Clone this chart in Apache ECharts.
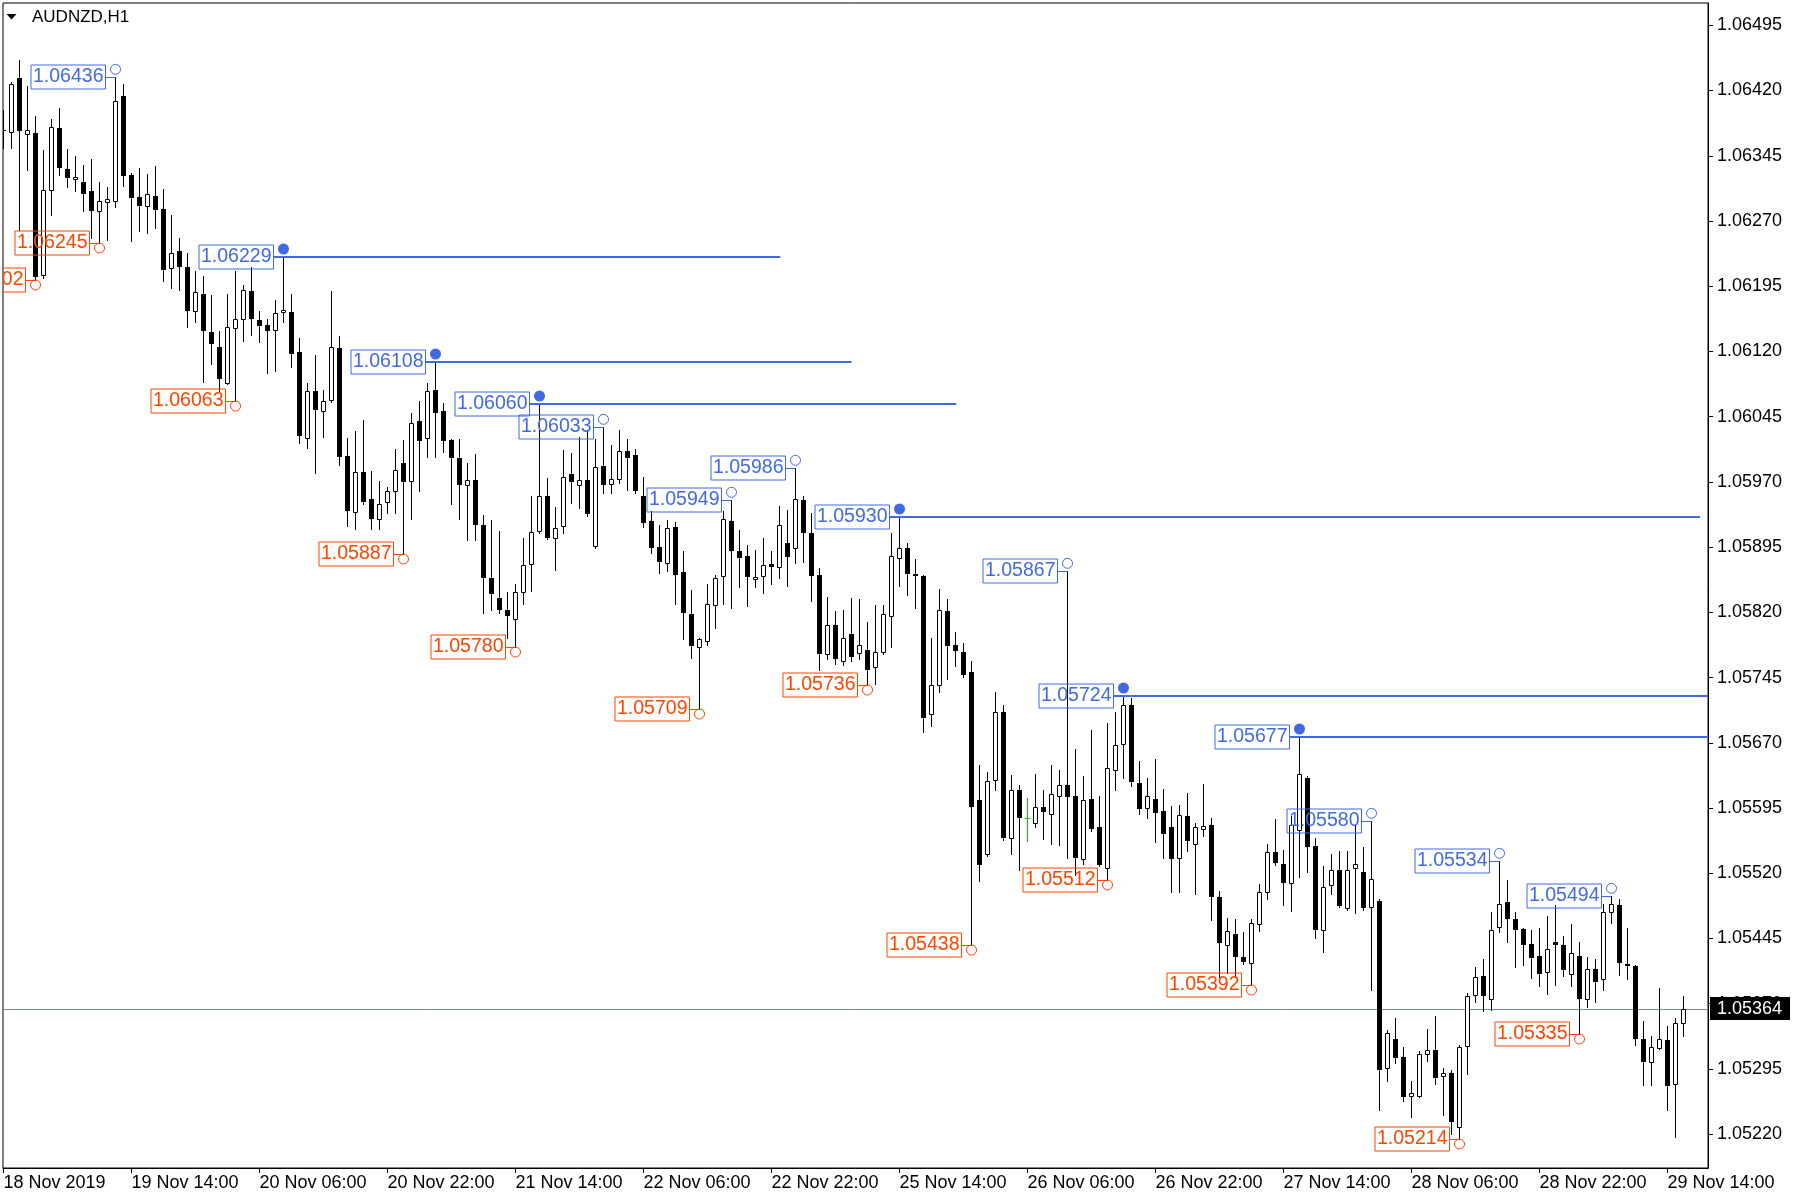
<!DOCTYPE html>
<html><head><meta charset="utf-8">
<script src="https://cdn.jsdelivr.net/npm/echarts@6/dist/echarts.min.js"></script>
<style>html,body{margin:0;padding:0;background:#fff}#c{width:1800px;height:1201px}</style>
</head><body><div id="c"></div>
<script>
const symbolTitle = 'AUDNZD,H1';
const opens = [
1.06375,1.06372,1.06434,1.06370,1.06371,1.06208,1.06306,1.06377,1.06330,1.06318,
1.06315,1.06304,1.06282,1.06292,1.06293,1.06414,1.06323,1.06298,1.06287,1.06299,
1.06284,1.06216,1.06235,1.06217,1.06166,1.06186,1.06142,1.06125,1.06084,1.06147,
1.06157,1.06190,1.06156,1.06150,1.06145,1.06165,1.06165,1.06119,1.06021,1.06074,
1.06052,1.06064,1.06124,1.06000,1.05935,1.05981,1.05950,1.05927,1.05947,1.05959,
1.05992,1.05971,1.06040,1.06020,1.06076,1.06051,1.06018,1.05998,1.05966,1.05972,
1.05921,1.05859,1.05837,1.05823,1.05812,1.05843,1.05876,1.05913,1.05954,1.05905,
1.05919,1.05979,1.05967,1.05972,1.05896,1.05988,1.05968,1.05973,1.06005,1.06001,
1.05954,1.05925,1.05895,1.05877,1.05918,1.05866,1.05818,1.05780,1.05787,1.05829,
1.05862,1.05925,1.05890,1.05885,1.05858,1.05862,1.05876,1.05872,1.05900,1.05894,
1.05949,1.05911,1.05863,1.05772,1.05805,1.05764,1.05795,1.05773,1.05777,1.05757,
1.05774,1.05816,1.05883,1.05894,1.05864,1.05862,1.05703,1.05737,1.05822,1.05782,
1.05774,1.05752,1.05604,1.05542,1.05627,1.05705,1.05561,1.05616,1.05584,1.05578,
1.05596,1.05588,1.05609,1.05622,1.05609,1.05537,1.05605,1.05573,1.05526,1.05639,
1.05669,1.05713,1.05624,1.05595,1.05605,1.05592,1.05573,1.05538,1.05586,1.05554,
1.05571,1.05576,1.05493,1.05438,1.05450,1.05424,1.05417,1.05462,1.05498,1.05544,
1.05531,1.05509,1.05570,1.05630,1.05551,1.05455,1.05506,1.05524,1.05480,1.05526,
1.05522,1.05481,1.05488,1.05296,1.05329,1.05309,1.05264,1.05264,1.05312,1.05317,
1.05287,1.05290,1.05228,1.05321,1.05380,1.05402,1.05376,1.05458,1.05487,1.05468,
1.05456,1.05439,1.05425,1.05406,1.05441,1.05437,1.05404,1.05425,1.05376,1.05410,
1.05399,1.05475,1.05483,1.05416,1.05413,1.05329,1.05303,1.05319,1.05328,1.05278,
1.05348];
const highs = [
1.06398,1.06430,1.06455,1.06425,1.06391,1.06352,1.06387,1.06400,1.06353,1.06345,
1.06334,1.06341,1.06315,1.06309,1.06436,1.06428,1.06325,1.06331,1.06324,1.06333,
1.06307,1.06277,1.06250,1.06233,1.06212,1.06207,1.06185,1.06143,1.06186,1.06212,
1.06196,1.06217,1.06166,1.06157,1.06179,1.06229,1.06186,1.06136,1.06084,1.06116,
1.06076,1.06190,1.06138,1.06020,1.06028,1.06041,1.05983,1.05971,1.05964,1.06008,
1.06018,1.06049,1.06063,1.06084,1.06108,1.06061,1.06019,1.06019,1.05992,1.06002,
1.05932,1.05926,1.05913,1.05843,1.05853,1.05906,1.05954,1.06060,1.05974,1.05941,
1.06007,1.06003,1.06022,1.06030,1.06019,1.06033,1.06012,1.06030,1.06019,1.06008,
1.05976,1.05936,1.05920,1.05926,1.05924,1.05890,1.05846,1.05790,1.05853,1.05863,
1.05937,1.05949,1.05915,1.05898,1.05892,1.05905,1.05890,1.05942,1.05938,1.05986,
1.05954,1.05934,1.05871,1.05838,1.05822,1.05823,1.05836,1.05835,1.05809,1.05829,
1.05829,1.05911,1.05930,1.05900,1.05881,1.05863,1.05791,1.05847,1.05835,1.05797,
1.05785,1.05764,1.05645,1.05637,1.05729,1.05714,1.05633,1.05621,1.05607,1.05634,
1.05616,1.05644,1.05639,1.05867,1.05663,1.05632,1.05685,1.05609,1.05693,1.05706,
1.05724,1.05721,1.05649,1.05629,1.05651,1.05617,1.05597,1.05599,1.05612,1.05578,
1.05623,1.05583,1.05500,1.05469,1.05467,1.05453,1.05468,1.05508,1.05554,1.05582,
1.05547,1.05586,1.05677,1.05632,1.05561,1.05528,1.05542,1.05546,1.05546,1.05576,
1.05550,1.05580,1.05490,1.05340,1.05354,1.05320,1.05281,1.05316,1.05341,1.05356,
1.05296,1.05294,1.05323,1.05382,1.05412,1.05422,1.05476,1.05534,1.05512,1.05476,
1.05457,1.05455,1.05457,1.05471,1.05483,1.05448,1.05462,1.05441,1.05424,1.05421,
1.05485,1.05494,1.05491,1.05457,1.05415,1.05350,1.05333,1.05388,1.05344,1.05354,
1.05379];
const lows = [
1.06354,1.06354,1.06260,1.06329,1.06202,1.06204,1.06277,1.06323,1.06309,1.06304,
1.06281,1.06250,1.06245,1.06248,1.06286,1.06310,1.06247,1.06258,1.06256,1.06262,
1.06201,1.06193,1.06191,1.06148,1.06154,1.06085,1.06106,1.06075,1.06082,1.06063,
1.06132,1.06139,1.06131,1.06095,1.06098,1.06154,1.06102,1.06015,1.06009,1.05980,
1.06022,1.06062,1.05990,1.05919,1.05916,1.05945,1.05916,1.05916,1.05934,1.05934,
1.05887,1.05927,1.05960,1.05999,1.05999,1.06004,1.05945,1.05927,1.05903,1.05903,
1.05819,1.05823,1.05819,1.05791,1.05780,1.05830,1.05844,1.05911,1.05904,1.05869,
1.05911,1.05946,1.05940,1.05931,1.05894,1.05957,1.05957,1.05969,1.05961,1.05957,
1.05918,1.05888,1.05865,1.05867,1.05830,1.05789,1.05767,1.05709,1.05782,1.05802,
1.05830,1.05825,1.05849,1.05827,1.05849,1.05842,1.05853,1.05860,1.05850,1.05877,
1.05878,1.05833,1.05754,1.05766,1.05761,1.05760,1.05764,1.05766,1.05736,1.05738,
1.05772,1.05780,1.05850,1.05840,1.05825,1.05682,1.05689,1.05729,1.05743,1.05758,
1.05746,1.05438,1.05511,1.05540,1.05616,1.05558,1.05542,1.05524,1.05557,1.05573,
1.05559,1.05554,1.05552,1.05538,1.05518,1.05531,1.05569,1.05528,1.05512,1.05616,
1.05630,1.05620,1.05588,1.05584,1.05556,1.05538,1.05499,1.05499,1.05546,1.05496,
1.05563,1.05466,1.05401,1.05405,1.05401,1.05416,1.05392,1.05454,1.05490,1.05530,
1.05483,1.05477,1.05516,1.05521,1.05446,1.05430,1.05496,1.05481,1.05478,1.05474,
1.05478,1.05386,1.05248,1.05281,1.05302,1.05258,1.05240,1.05263,1.05304,1.05278,
1.05242,1.05220,1.05214,1.05289,1.05372,1.05362,1.05363,1.05452,1.05441,1.05412,
1.05414,1.05400,1.05390,1.05381,1.05392,1.05402,1.05390,1.05335,1.05366,1.05372,
1.05386,1.05463,1.05403,1.05398,1.05322,1.05277,1.05277,1.05318,1.05248,1.05217,
1.05333];
const closes = [
1.06374,1.06428,1.06373,1.06375,1.06206,1.06306,1.06378,1.06331,1.06320,1.06321,
1.06301,1.06282,1.06293,1.06295,1.06408,1.06322,1.06297,1.06287,1.06301,1.06283,
1.06214,1.06233,1.06217,1.06166,1.06188,1.06144,1.06128,1.06088,1.06148,1.06157,
1.06191,1.06157,1.06149,1.06144,1.06164,1.06168,1.06117,1.06023,1.06074,1.06053,
1.06063,1.06125,1.05999,1.05937,1.05981,1.05947,1.05927,1.05945,1.05960,1.05984,
1.05970,1.06038,1.06017,1.06075,1.06049,1.06017,1.05998,1.05967,1.05972,1.05920,
1.05859,1.05841,1.05823,1.05816,1.05843,1.05875,1.05912,1.05954,1.05905,1.05917,
1.05976,1.05970,1.05972,1.05933,1.05987,1.05967,1.05973,1.06006,1.05997,1.05959,
1.05923,1.05894,1.05878,1.05917,1.05863,1.05819,1.05781,1.05789,1.05830,1.05860,
1.05927,1.05890,1.05883,1.05861,1.05861,1.05875,1.05872,1.05920,1.05884,1.05950,
1.05911,1.05862,1.05772,1.05805,1.05766,1.05791,1.05769,1.05783,1.05754,1.05775,
1.05818,1.05885,1.05894,1.05864,1.05862,1.05699,1.05736,1.05823,1.05781,1.05776,
1.05748,1.05596,1.05530,1.05626,1.05706,1.05560,1.05616,1.05584,1.05584,1.05596,
1.05591,1.05611,1.05622,1.05608,1.05538,1.05604,1.05571,1.05530,1.05641,1.05668,
1.05714,1.05625,1.05594,1.05609,1.05589,1.05565,1.05536,1.05587,1.05557,1.05573,
1.05574,1.05493,1.05440,1.05454,1.05424,1.05418,1.05463,1.05498,1.05545,1.05532,
1.05509,1.05575,1.05634,1.05550,1.05455,1.05504,1.05524,1.05482,1.05524,1.05531,
1.05480,1.05513,1.05294,1.05336,1.05308,1.05263,1.05267,1.05312,1.05317,1.05285,
1.05290,1.05234,1.05320,1.05379,1.05401,1.05379,1.05455,1.05485,1.05468,1.05455,
1.05437,1.05423,1.05404,1.05433,1.05438,1.05409,1.05428,1.05375,1.05410,1.05395,
1.05475,1.05485,1.05417,1.05413,1.05329,1.05303,1.05320,1.05329,1.05276,1.05348,
1.05364];
const timeLabels = ['18 Nov 2019','19 Nov 14:00','20 Nov 06:00','20 Nov 22:00','21 Nov 14:00','22 Nov 06:00','22 Nov 22:00','25 Nov 14:00','26 Nov 06:00','26 Nov 22:00','27 Nov 14:00','28 Nov 06:00','28 Nov 22:00','29 Nov 14:00'];
const timeLabelBars = [0,16,32,48,64,80,96,112,128,144,160,176,192,208];
const priceTicks = [1.05220,1.05295,1.05370,1.05445,1.05520,1.05595,1.05670,1.05745,1.05820,1.05895,1.05970,1.06045,1.06120,1.06195,1.06270,1.06345,1.06420,1.06495];
const highLabelBars = [14,35,54,67,75,91,99,112,133,140,162,171,187,201];
const highLabelPrices = [1.06436,1.06229,1.06108,1.06060,1.06033,1.05949,1.05986,1.05930,1.05867,1.05724,1.05677,1.05580,1.05534,1.05494];
const highLevelEnds = [null,97.1,106.0,119.1,null,null,null,212.06,null,213.1,213.1,null,null,null];
const lowLabelBars = [4,12,29,50,64,87,108,121,138,156,182,197];
const lowLabelPrices = [1.06202,1.06245,1.06063,1.05887,1.05780,1.05709,1.05736,1.05438,1.05512,1.05392,1.05214,1.05335];
const currentPrice = 1.05364;

const BLUE = '#4169E1', RED = '#FF4500', FONT = '"Liberation Sans"';
const xMin = -0.0625, xMax = xMin + 1705 / 8;
const yMax = 1.06495 + 22.3 / 86973, yMin = 1.06495 - 1142.7 / 86973;

const candleData = opens.map((o, i) => [i, o, highs[i], lows[i], closes[i]]);
const labelItems = [];
highLabelBars.forEach((b, k) => labelItems.push({bar: b, price: highLabelPrices[k], high: true, levelEnd: highLevelEnds[k]}));
lowLabelBars.forEach((b, k) => labelItems.push({bar: b, price: lowLabelPrices[k], high: false, levelEnd: null}));

function renderCandle(params, api) {
  const i = api.value(0), o = api.value(1), h = api.value(2), l = api.value(3), c = api.value(4);
  const pO = api.coord([i, o]), pC = api.coord([i, c]), pH = api.coord([i, h]), pL = api.coord([i, l]);
  const cx = Math.floor(pO[0] + 0.001) + 0.5;
  const doji = Math.abs(o - c) < 1e-9;
  const col = doji ? '#00C800' : '#000';
  const yTop = Math.round(Math.min(pO[1], pC[1]));
  const yBot = Math.round(Math.max(pO[1], pC[1]));
  const kids = [{type: 'line', shape: {x1: cx, y1: Math.round(pH[1]), x2: cx, y2: Math.round(pL[1]) + 1}, style: {stroke: col, lineWidth: 1}}];
  if (doji) {
    kids.push({type: 'line', shape: {x1: cx - 2.5, y1: yTop + 0.5, x2: cx + 2.5, y2: yTop + 0.5}, style: {stroke: col, lineWidth: 1}});
  } else if (c > o) {
    kids.push({type: 'rect', shape: {x: cx - 2, y: yTop + 0.5, width: 4, height: Math.max(yBot - yTop, 1)}, style: {fill: '#fff', stroke: '#000', lineWidth: 1}});
  } else {
    kids.push({type: 'rect', shape: {x: cx - 2.5, y: yTop, width: 5, height: Math.max(yBot - yTop, 1)}, style: {fill: '#000'}});
  }
  return {type: 'group', children: kids};
}

function renderLabel(params, api) {
  const it = labelItems[params.dataIndex];
  const p = api.coord([it.bar, it.price]);
  const bx = Math.floor(p[0] + 0.001) + 0.5;
  const py = Math.round(p[1]);
  const color = it.high ? BLUE : RED;
  const right = bx - 10;
  const kids = [];
  if (it.levelEnd != null) {
    const e = api.coord([it.levelEnd, it.price]);
    kids.push({type: 'line', shape: {x1: right, y1: py, x2: e[0], y2: py}, style: {stroke: color, lineWidth: 2}});
  } else {
    kids.push({type: 'line', shape: {x1: right, y1: py + 0.5, x2: bx, y2: py + 0.5}, style: {stroke: color, lineWidth: 1}});
  }
  kids.push({type: 'text', style: {x: right, y: py, text: it.price.toFixed(5), fill: color,
    font: '19.5px "Liberation Sans"', align: 'right', verticalAlign: 'middle',
    padding: [2, 2, 2, 2], lineHeight: 20, borderColor: color, borderWidth: 1}});
  if (it.levelEnd != null) {
    kids.push({type: 'circle', shape: {cx: bx, cy: py - 8, r: 5.5}, style: {fill: color}});
  } else {
    kids.push({type: 'circle', shape: {cx: bx, cy: it.high ? py - 7.7 : py + 5, r: 5}, style: {fill: 'none', stroke: color, lineWidth: 1}});
  }
  return {type: 'group', children: kids};
}

function renderPriceLine(params, api) {
  const p = api.coord([api.value(0), api.value(1)]);
  const cs = params.coordSys;
  const y = Math.round(p[1]) + 0.5;
  return {type: 'line', shape: {x1: cs.x, y1: y, x2: cs.x + cs.width, y2: y}, style: {stroke: '#778899', lineWidth: 1}};
}

function renderPriceTag(params, api) {
  const p = api.coord([api.value(0), api.value(1)]);
  const cs = params.coordSys;
  const y = Math.round(p[1]);
  const x0 = cs.x + cs.width + 2;
  return {type: 'group', children: [
    {type: 'rect', shape: {x: x0, y: y - 12, width: 80, height: 23}, style: {fill: '#000'}},
    {type: 'text', style: {x: x0 + 7, y: y + 0.5, text: api.value(1).toFixed(5), fill: '#fff', font: '18px ' + FONT, align: 'left', verticalAlign: 'middle'}}
  ]};
}

const chart = echarts.init(document.getElementById('c'), null, {renderer: 'canvas', width: 1800, height: 1201});
chart.setOption({
  animation: false,
  backgroundColor: '#fff',
  title: {text: symbolTitle, left: 32, top: 9, padding: 0, textStyle: {fontFamily: FONT, fontSize: 17, fontWeight: 'normal', color: '#000'}},
  graphic: [{type: 'polygon', shape: {points: [[6.5, 14], [16.5, 14], [11.5, 19.5]]}, style: {fill: '#000'}}],
  grid: {left: 3, right: 92, top: 3, bottom: 33, show: true, borderColor: '#000', borderWidth: 1, backgroundColor: 'transparent'},
  xAxis: {
    type: 'value', min: xMin, max: xMax, position: 'bottom',
    axisLine: {show: true, onZero: false, lineStyle: {color: '#000', width: 1}},
    axisTick: {show: true, customValues: timeLabelBars, length: 5, lineStyle: {color: '#000'}},
    axisLabel: {customValues: timeLabelBars, formatter: v => timeLabels[timeLabelBars.indexOf(Math.round(v))],
      align: 'left', color: '#000', fontFamily: FONT, fontSize: 18, margin: 6},
    splitLine: {show: false}
  },
  yAxis: {
    type: 'value', min: yMin, max: yMax, position: 'right', scale: true,
    axisLine: {show: true, onZero: false, lineStyle: {color: '#000', width: 1}},
    axisTick: {show: true, customValues: priceTicks, length: 5, lineStyle: {color: '#000'}},
    axisLabel: {customValues: priceTicks, formatter: v => v.toFixed(5), color: '#000', fontFamily: FONT, fontSize: 18, margin: 9},
    splitLine: {show: false}
  },
  series: [
    {type: 'custom', z: 1, clip: true, renderItem: renderPriceLine, data: [[0, currentPrice]], encode: {x: 0, y: 1}, silent: true},
    {type: 'custom', z: 2, clip: true, renderItem: renderCandle, data: candleData, encode: {x: 0, y: [1, 2, 3, 4]}, silent: true},
    {type: 'custom', z: 3, clip: true, renderItem: renderLabel, data: labelItems.map(it => [it.bar, it.price]), encode: {x: 0, y: 1}, silent: true},
    {type: 'custom', z: 4, clip: false, renderItem: renderPriceTag, data: [[xMax, currentPrice]], encode: {x: 0, y: 1}, silent: true}
  ]
});
</script></body></html>
